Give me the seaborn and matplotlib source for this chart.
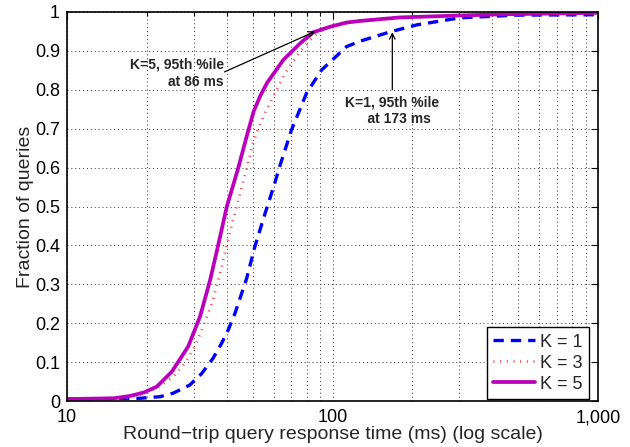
import numpy as np
import pandas as pd
import seaborn as sns
import matplotlib
matplotlib.use("Agg")
import matplotlib.pyplot as plt
from matplotlib.ticker import FixedLocator, LogLocator, NullFormatter

# datos (CDF del tiempo de respuesta)
k1_ms = [10, 18.8, 22.4, 25.1, 29.0, 32.2, 35.5, 38.2, 40.5, 42.9, 47.5, 51, 55.6,
         60.6, 63.4, 70.1, 79.8, 91, 113, 127, 165, 208, 302, 495, 1000]
k1_frac = [0.005, 0.007, 0.011, 0.02, 0.041, 0.071, 0.11, 0.148, 0.183, 0.225, 0.315,
           0.397, 0.48, 0.56, 0.605, 0.697, 0.791, 0.851, 0.911, 0.925, 0.949, 0.967,
           0.985, 0.992, 0.993]

k3_ms = [10, 17, 20.5, 22.7, 25.1, 27.8, 30.3, 32.2, 34.0, 35.5, 37.7, 41.7, 44.2,
         47.5, 50.3, 52.5, 55.6, 59.0, 66.1, 74.6, 84.7, 92, 100, 127, 179, 300, 1000]
k3_frac = [0.005, 0.008, 0.024, 0.041, 0.062, 0.097, 0.14, 0.183, 0.225, 0.26, 0.328,
           0.452, 0.517, 0.598, 0.665, 0.70, 0.74, 0.774, 0.842, 0.894, 0.937, 0.954,
           0.965, 0.976, 0.986, 0.991, 0.998]

k5_ms = [10, 15, 17.3, 19.5, 21.8, 24.8, 28.6, 31.7, 34.6, 36.8, 40, 44.2, 47.5, 50.5,
         53.5, 56.6, 65.3, 75.7, 84.7, 97.8, 113, 127, 179, 300, 427, 1000]
k5_frac = [0.005, 0.007, 0.013, 0.022, 0.037, 0.075, 0.14, 0.217, 0.311, 0.39, 0.5,
           0.6, 0.68, 0.745, 0.785, 0.817, 0.877, 0.92, 0.948, 0.962, 0.973, 0.977,
           0.986, 0.991, 0.994, 0.998]

x_ticks = [10, 100, 1000]
x_labels = ["10", "100", "1,000"]
y_ticks = [0, 0.1, 0.2, 0.3, 0.4, 0.5, 0.6, 0.7, 0.8, 0.9, 1]
y_labels = ["0", "0.1", "0.2", "0.3", "0.4", "0.5", "0.6", "0.7", "0.8", "0.9", "1"]

sns.set_style("white")
plt.rcParams["font.family"] = ["Liberation Sans", "DejaVu Sans"]

fig = plt.figure(figsize=(6.3, 4.47), dpi=100)
ax = fig.add_axes([67 / 630, 46 / 447, 531 / 630, 389 / 447])

df1 = pd.DataFrame({"ms": k1_ms, "frac": k1_frac})
df3 = pd.DataFrame({"ms": k3_ms, "frac": k3_frac})
df5 = pd.DataFrame({"ms": k5_ms, "frac": k5_frac})

sns.lineplot(data=df1, x="ms", y="frac", ax=ax, color="#0000ff", lw=2.4,
             linestyle=(0, (3.1, 2.1)), label="K = 1", estimator=None, sort=False)
sns.lineplot(data=df3, x="ms", y="frac", ax=ax, color="#ff3b3b", lw=2.0,
             linestyle=(0, (0.35, 2.05)), label="K = 3", estimator=None, sort=False)
sns.lineplot(data=df5, x="ms", y="frac", ax=ax, color="#bb00bb", lw=2.7,
             label="K = 5", estimator=None, sort=False)
for ln in ax.get_lines():
    ln.set_dash_capstyle("butt")

ax.set_xscale("log")
ax.set_xlim(10, 1000)
ax.set_ylim(0, 1)
ax.xaxis.set_major_locator(FixedLocator(x_ticks))
ax.set_xticklabels(x_labels)
ax.xaxis.set_minor_locator(LogLocator(base=10, subs=np.arange(2, 10)))
ax.xaxis.set_minor_formatter(NullFormatter())
ax.set_yticks(y_ticks)
ax.set_yticklabels(y_labels)

# rejilla punteada estilo matlab
ax.grid(True, which="both", axis="x", color="0.2", linestyle=(0, (1, 3)), lw=0.7)
ax.grid(True, which="major", axis="y", color="0.2", linestyle=(0, (1, 3)), lw=0.7)

ax.tick_params(which="both", direction="in", top=True, right=True, labelsize=13,
               colors="black")
ax.tick_params(which="major", length=5, width=0.8)
ax.tick_params(which="minor", length=3, width=0.8)
ax.tick_params(axis="x", pad=6)
ax.tick_params(axis="y", pad=5)
for s in ax.spines.values():
    s.set_color("black")
    s.set_linewidth(1.2)

ax.set_xlabel("Round\u2212trip query response time (ms) (log scale)", fontsize=14, labelpad=0)
ax.set_ylabel("Fraction of queries", fontsize=14, labelpad=1)

# anotaciones
ax.annotate("", xy=(86, 0.95), xytext=(39.2, 0.846),
            arrowprops=dict(arrowstyle="->", color="black", lw=0.9,
                            shrinkA=0, shrinkB=0))
ax.text(39.0, 0.842, "K=5, 95th %ile\nat 86 ms", ha="right", va="center",
        multialignment="right", fontsize=10, fontweight="bold", linespacing=1.3)

ax.annotate("", xy=(168, 0.948), xytext=(168, 0.80),
            arrowprops=dict(arrowstyle="->", color="black", lw=0.9,
                            shrinkA=0, shrinkB=0))
ax.text(167, 0.746, "K=1, 95th %ile\n    at 173 ms", ha="center", va="center",
        multialignment="center", fontsize=10, fontweight="bold", linespacing=1.3)

leg = ax.legend(loc="lower right", bbox_to_anchor=(0.983, 0.005), fontsize=13,
                handlelength=2.3, handletextpad=0.3, borderaxespad=0,
                borderpad=0.35, labelspacing=0.22,
                fancybox=False, framealpha=1, edgecolor="black")
leg.get_frame().set_linewidth(1.0)

fig.savefig("out.png", dpi=100)
